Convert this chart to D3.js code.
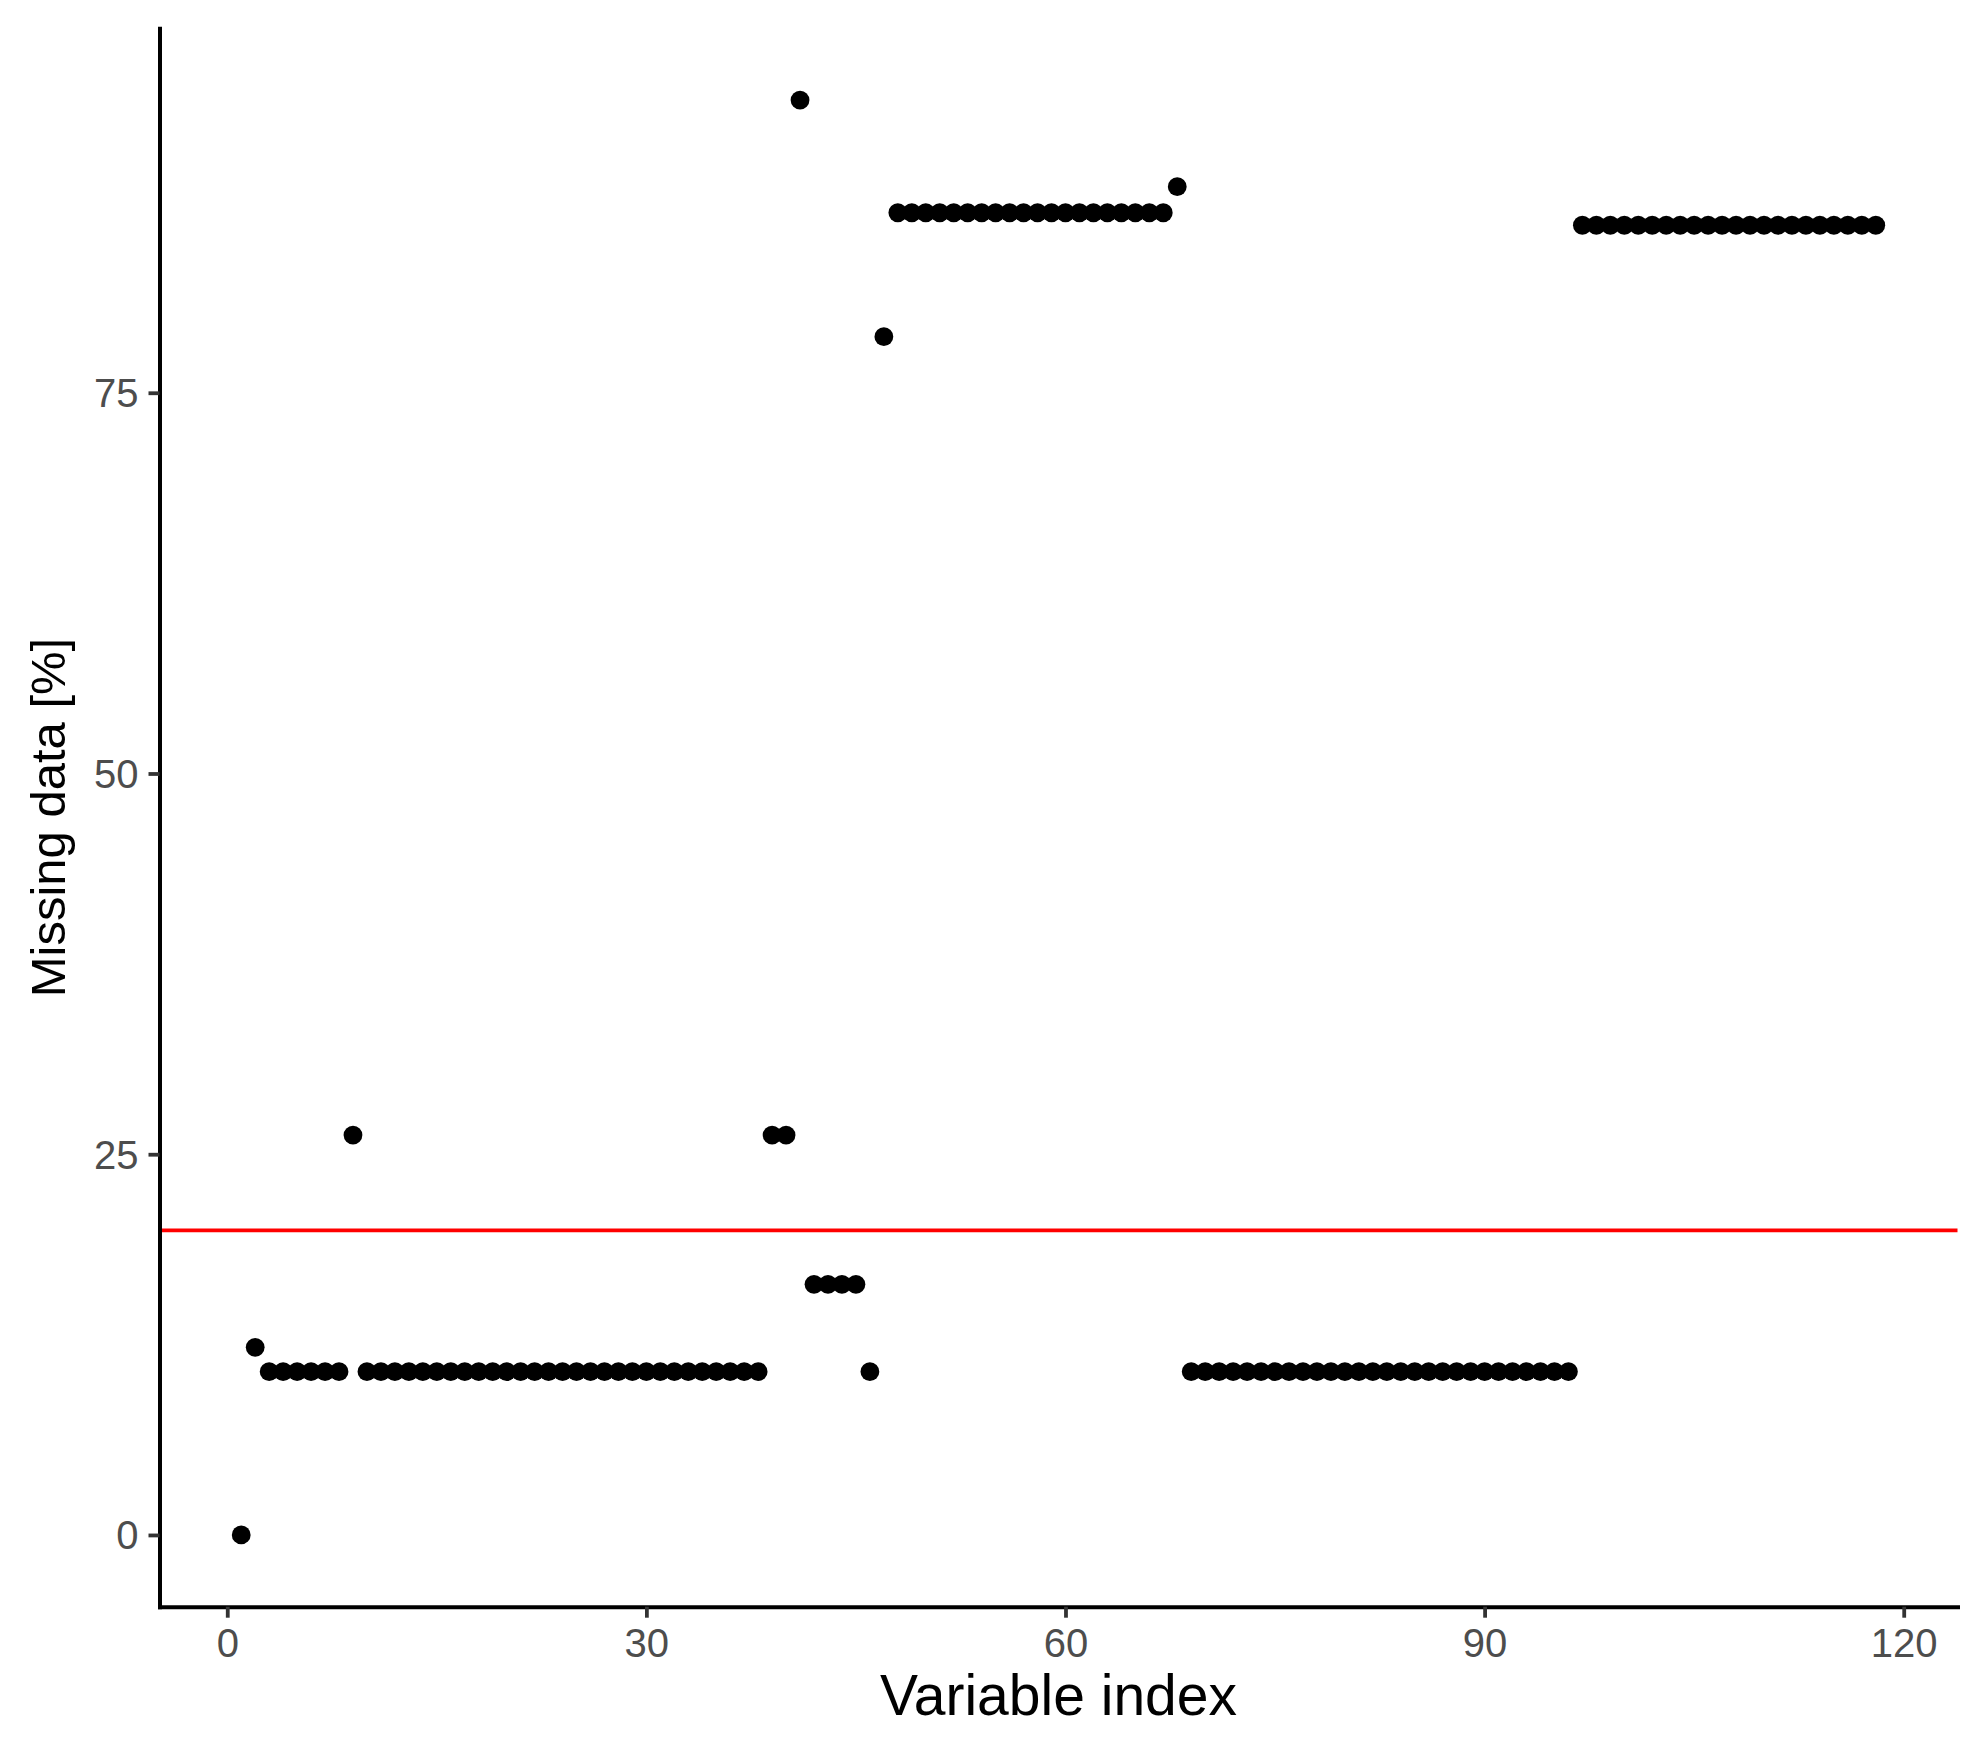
<!DOCTYPE html>
<html>
<head>
<meta charset="utf-8">
<script src="https://cdn.jsdelivr.net/npm/d3@7"></script>
<style>
  html, body { margin: 0; padding: 0; background: #ffffff; }
  svg { display: block; font-family: "Liberation Sans", Arial, sans-serif; }
</style>
</head>
<body>
<svg id="chart" width="1977" height="1738"></svg>
<script>
// ---- data ----
const missingPct = [
  0, 12.32,
  10.72, 10.72, 10.72, 10.72, 10.72, 10.72,
  26.26,
  10.72, 10.72, 10.72, 10.72, 10.72, 10.72, 10.72, 10.72, 10.72, 10.72,
  10.72, 10.72, 10.72, 10.72, 10.72, 10.72, 10.72, 10.72, 10.72, 10.72,
  10.72, 10.72, 10.72, 10.72, 10.72, 10.72, 10.72, 10.72, 10.72,
  26.26, 26.26,
  94.22,
  16.46, 16.46, 16.46, 16.46,
  10.72,
  78.68,
  86.82, 86.82, 86.82, 86.82, 86.82, 86.82, 86.82, 86.82, 86.82, 86.82,
  86.82, 86.82, 86.82, 86.82, 86.82, 86.82, 86.82, 86.82, 86.82, 86.82,
  88.53,
  10.72, 10.72, 10.72, 10.72, 10.72, 10.72, 10.72, 10.72, 10.72, 10.72,
  10.72, 10.72, 10.72, 10.72, 10.72, 10.72, 10.72, 10.72, 10.72, 10.72,
  10.72, 10.72, 10.72, 10.72, 10.72, 10.72, 10.72, 10.72,
  86.0, 86.0, 86.0, 86.0, 86.0, 86.0, 86.0, 86.0, 86.0, 86.0, 86.0,
  86.0, 86.0, 86.0, 86.0, 86.0, 86.0, 86.0, 86.0, 86.0, 86.0, 86.0
];
const variableIndex = missingPct.map((_, i) => i + 1);
const thresholdPct = [20];
const xTicks = [0, 30, 60, 90, 120];
const yTicks = [0, 25, 50, 75];
const xTitle = "Variable index";
const yTitle = "Missing data [%]";

// ---- layout ----
const panel = { left: 159.5, right: 1957.5, top: 28.3, bottom: 1606.7 };

function expand(ext, f) {
  const r = ext[1] - ext[0];
  return [ext[0] - r * f, ext[1] + r * f];
}

const x = d3.scaleLinear()
  .domain(expand(d3.extent(variableIndex), 0.05))
  .range([panel.left, panel.right]);
const y = d3.scaleLinear()
  .domain(expand([d3.min(missingPct), d3.max(missingPct)], 0.05))
  .range([panel.bottom, panel.top]);

const svg = d3.select("#chart");
svg.append("rect").attr("width", 1977).attr("height", 1738).attr("fill", "#ffffff");

// threshold line
svg.selectAll("line.threshold")
  .data(thresholdPct)
  .enter().append("line")
  .attr("class", "threshold")
  .attr("x1", panel.left).attr("x2", panel.right)
  .attr("y1", d => y(d)).attr("y2", d => y(d))
  .attr("stroke", "#ff0000")
  .attr("stroke-width", 3.8);

// points
svg.append("g").selectAll("circle")
  .data(missingPct)
  .enter().append("circle")
  .attr("cx", (d, i) => x(variableIndex[i]))
  .attr("cy", d => y(d))
  .attr("r", 9.4)
  .attr("fill", "#000000");

// axes
const xAxis = d3.axisBottom(x).tickValues(xTicks).tickSizeInner(11).tickSizeOuter(0).tickPadding(9);
const yAxis = d3.axisLeft(y).tickValues(yTicks).tickSizeInner(11).tickSizeOuter(0).tickPadding(10);

const gx = svg.append("g").attr("transform", `translate(0,${panel.bottom})`).call(xAxis);
const gy = svg.append("g").attr("transform", `translate(${panel.left},0)`).call(yAxis);

[gx, gy].forEach(g => {
  g.select(".domain").attr("stroke", "#000000").attr("stroke-width", 4).attr("stroke-linecap", "square");
  g.selectAll(".tick line").attr("stroke", "#333333").attr("stroke-width", 3.8);
  g.selectAll(".tick text")
    .attr("fill", "#4D4D4D")
    .attr("font-size", 40)
    .attr("font-family", "'Liberation Sans', Arial, sans-serif");
});
gx.selectAll(".tick text").attr("dy", "0.76em");
gy.selectAll(".tick text").attr("dy", "0.35em");

// titles
svg.append("text")
  .attr("x", (panel.left + panel.right) / 2)
  .attr("y", 1715)
  .attr("text-anchor", "middle")
  .attr("font-size", 57)
  .attr("fill", "#000000")
  .text(xTitle);

svg.append("text")
  .attr("transform", `translate(65,${(panel.top + panel.bottom) / 2}) rotate(-90)`)
  .attr("text-anchor", "middle")
  .attr("font-size", 49)
  .attr("fill", "#000000")
  .text(yTitle);
</script>
</body>
</html>
